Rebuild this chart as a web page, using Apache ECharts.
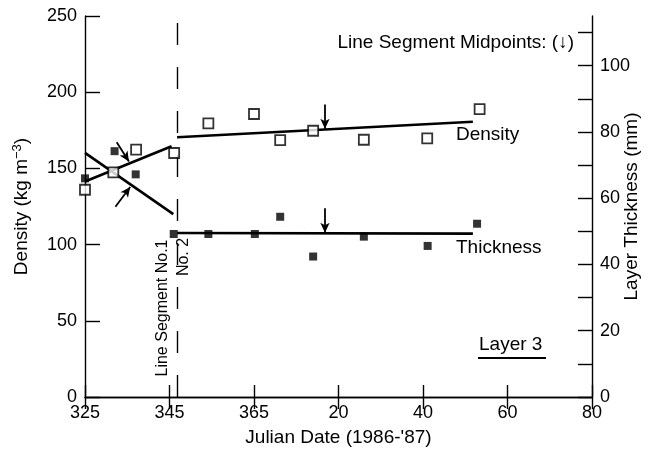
<!DOCTYPE html>
<html><head><meta charset="utf-8">
<script src="https://cdn.jsdelivr.net/npm/echarts@6/dist/echarts.min.js"></script>
<style>html,body{margin:0;padding:0;background:#fff}#c{width:652px;height:451px}</style>
</head><body><div id="c"></div>
<script>
// x axis: Julian day, 1987 days continue after 365
const xTickValues = [325, 345, 365, 385, 405, 425, 445];
const xTickLabels = ['325', '345', '365', '20', '40', '60', '80'];

// Density (open squares, left axis)
const densityDates = [325, 331.7, 337.1, 346.1, 354.2, 365, 371.2, 379, 391, 406, 418.4];
const densityValues = [136, 147.4, 162.3, 160.1, 179.5, 185.7, 168.6, 174.7, 168.8, 169.7, 188.9];

// Thickness (filled squares, right axis)
const thickDates = [325, 332, 337, 346, 354.2, 365.2, 371.2, 379, 391, 406.1, 417.8];
const thickValues = [66, 74.2, 67.2, 49.2, 49.2, 49.2, 54.4, 42.4, 48.4, 45.6, 52.3];

// Fitted line segments
const densSeg1 = [[325, 141.4], [345.5, 164.5]];
const densSeg2 = [[346.8, 170.4], [416.8, 180.6]];
const thickSeg1 = [[325, 73.7], [345.9, 55.2]];
const thickSeg2 = [[346.8, 49.5], [416.8, 49.3]];

// Segment break and midpoint arrows [tail, head]
const segmentBreak = 346.8;
const densArrows = [[[332.5, 167.1], [335.4, 154.5]], [[381.8, 192], [381.8, 176]]];
const thickArrows = [[[332.2, 57.4], [335.7, 63.4]], [[381.8, 57], [381.8, 49.6]]];

const FONT = 'Liberation Sans';
const chart = echarts.init(document.getElementById('c'), null, {renderer: 'canvas'});

const zip = (a, b) => a.map((v, i) => [v, b[i]]);
const arrowML = (arr) => ({
  silent: true, symbol: ['none', 'arrow'], symbolSize: [7, 10],
  lineStyle: {color: '#000', width: 1.8, type: 'solid'}, label: {show: false},
  emphasis: {disabled: true},
  data: arr.map(a => [{coord: a[0]}, {coord: a[1]}])
});
const segLine = (data, yIdx, extra) => Object.assign({
  type: 'line', data: data, xAxisIndex: 0, yAxisIndex: yIdx, showSymbol: false,
  lineStyle: {color: '#000', width: 2.6}, silent: true, z: 3, animation: false
}, extra || {});

const axisLineStyle = {show: true, lineStyle: {color: '#000', width: 1.4}};
const labelStyle = {color: '#000', fontFamily: FONT, fontSize: 18};
const titleStyle = {color: '#000', fontFamily: FONT, fontSize: 19};
const annFont = '19px "' + FONT + '"';

chart.setOption({
  animation: false,
  backgroundColor: '#fff',
  grid: {left: 85, right: 60, top: 16, bottom: 54, containLabel: false, outerBoundsMode: 'none'},
  xAxis: [{
    type: 'value', min: 325, max: 445, interval: 20, position: 'bottom',
    axisLine: axisLineStyle, splitLine: {show: false},
    axisTick: {inside: true, length: 12, lineStyle: {color: '#000', width: 1.4}},
    axisLabel: Object.assign({margin: 7, formatter: v => {
      const i = xTickValues.indexOf(v); return i >= 0 ? xTickLabels[i] : '';
    }}, labelStyle),
    name: "Julian Date (1986-'87)", nameLocation: 'middle', nameGap: 31, nameMoveOverlap: false,
    nameTextStyle: titleStyle
  }, {
    type: 'value', min: 325, max: 445, interval: 20, position: 'top',
    axisLine: axisLineStyle, splitLine: {show: false},
    axisTick: {inside: true, length: 12, lineStyle: {color: '#000', width: 1.4}},
    axisLabel: {show: false}
  }],
  yAxis: [{
    type: 'value', min: 0, max: 250, interval: 50, position: 'left',
    axisLine: axisLineStyle, splitLine: {show: false},
    axisTick: {inside: true, length: 15, lineStyle: {color: '#000', width: 1.4}},
    axisLabel: Object.assign({margin: 8}, labelStyle),
    name: 'Density (kg m{sup|−3})', nameLocation: 'middle', nameGap: 52, nameRotate: 90, nameMoveOverlap: false,
    nameTextStyle: Object.assign({
      rich: {sup: {fontFamily: FONT, fontSize: 13, verticalAlign: 'top', padding: [0, 0, 9, 0], color: '#000'}}}, titleStyle)
  }, {
    type: 'value', min: 0, max: 115, interval: 10, position: 'right',
    axisLine: axisLineStyle, splitLine: {show: false},
    axisTick: {inside: true, length: 14, lineStyle: {color: '#000', width: 1.4}},
    axisLabel: Object.assign({margin: 8, showMaxLabel: false,
      formatter: v => (v % 20 === 0 && v <= 100) ? String(v) : ''}, labelStyle),
    name: 'Layer Thickness (mm)', nameLocation: 'middle', nameGap: 30, nameRotate: 90, nameMoveOverlap: false,
    nameTextStyle: titleStyle
  }],
  series: [
    segLine(densSeg1, 0, {markLine: arrowML(densArrows.slice(0, 1))}),
    segLine(densSeg2, 0, {markLine: arrowML(densArrows.slice(1))}),
    segLine(thickSeg1, 1, {markLine: arrowML(thickArrows.slice(0, 1))}),
    segLine(thickSeg2, 1, {markLine: arrowML(thickArrows.slice(1))}),
    {
      type: 'line', data: [], xAxisIndex: 0, yAxisIndex: 0, silent: true,
      markLine: {
        silent: true, symbol: ['none', 'none'], label: {show: false},
        lineStyle: {color: '#000', width: 1.4, type: [22, 22], dashOffset: 0},
        data: [{xAxis: segmentBreak}]
      }
    },
    {
      type: 'scatter', name: 'Density', data: zip(densityDates, densityValues),
      xAxisIndex: 0, yAxisIndex: 0, symbol: 'rect', symbolSize: 10, z: 5,
      itemStyle: {color: '#fff', borderColor: '#000', borderWidth: 1.8}
    },
    {
      type: 'scatter', name: 'Thickness', data: zip(thickDates, thickValues),
      xAxisIndex: 0, yAxisIndex: 1, symbol: 'rect', symbolSize: 8, z: 5,
      itemStyle: {color: '#000'}
    }
  ],
  graphic: [
    {type: 'text', x: 574, y: 43, style: {text: 'Line Segment Midpoints: (↓)', fill: '#000', font: annFont, align: 'right', verticalAlign: 'middle'}},
    {type: 'text', x: 456, y: 135, style: {text: 'Density', fill: '#000', font: annFont, verticalAlign: 'middle'}},
    {type: 'text', x: 456, y: 248, style: {text: 'Thickness', fill: '#000', font: annFont, verticalAlign: 'middle'}},
    {type: 'text', x: 479, y: 345, style: {text: 'Layer 3', fill: '#000', font: annFont, verticalAlign: 'middle'}},
    {type: 'line', shape: {x1: 478, y1: 358, x2: 546, y2: 358}, style: {stroke: '#000', lineWidth: 2}},
    {type: 'text', x: 163, y: 308, rotation: Math.PI / 2,
      style: {text: 'Line Segment No.1', fill: '#000', font: '16px "' + FONT + '"', align: 'center', verticalAlign: 'middle'}},
    {type: 'text', x: 184, y: 257, rotation: Math.PI / 2,
      style: {text: 'No. 2', fill: '#000', font: '16px "' + FONT + '"', align: 'center', verticalAlign: 'middle'}}
  ]
});
</script>
</body></html>
